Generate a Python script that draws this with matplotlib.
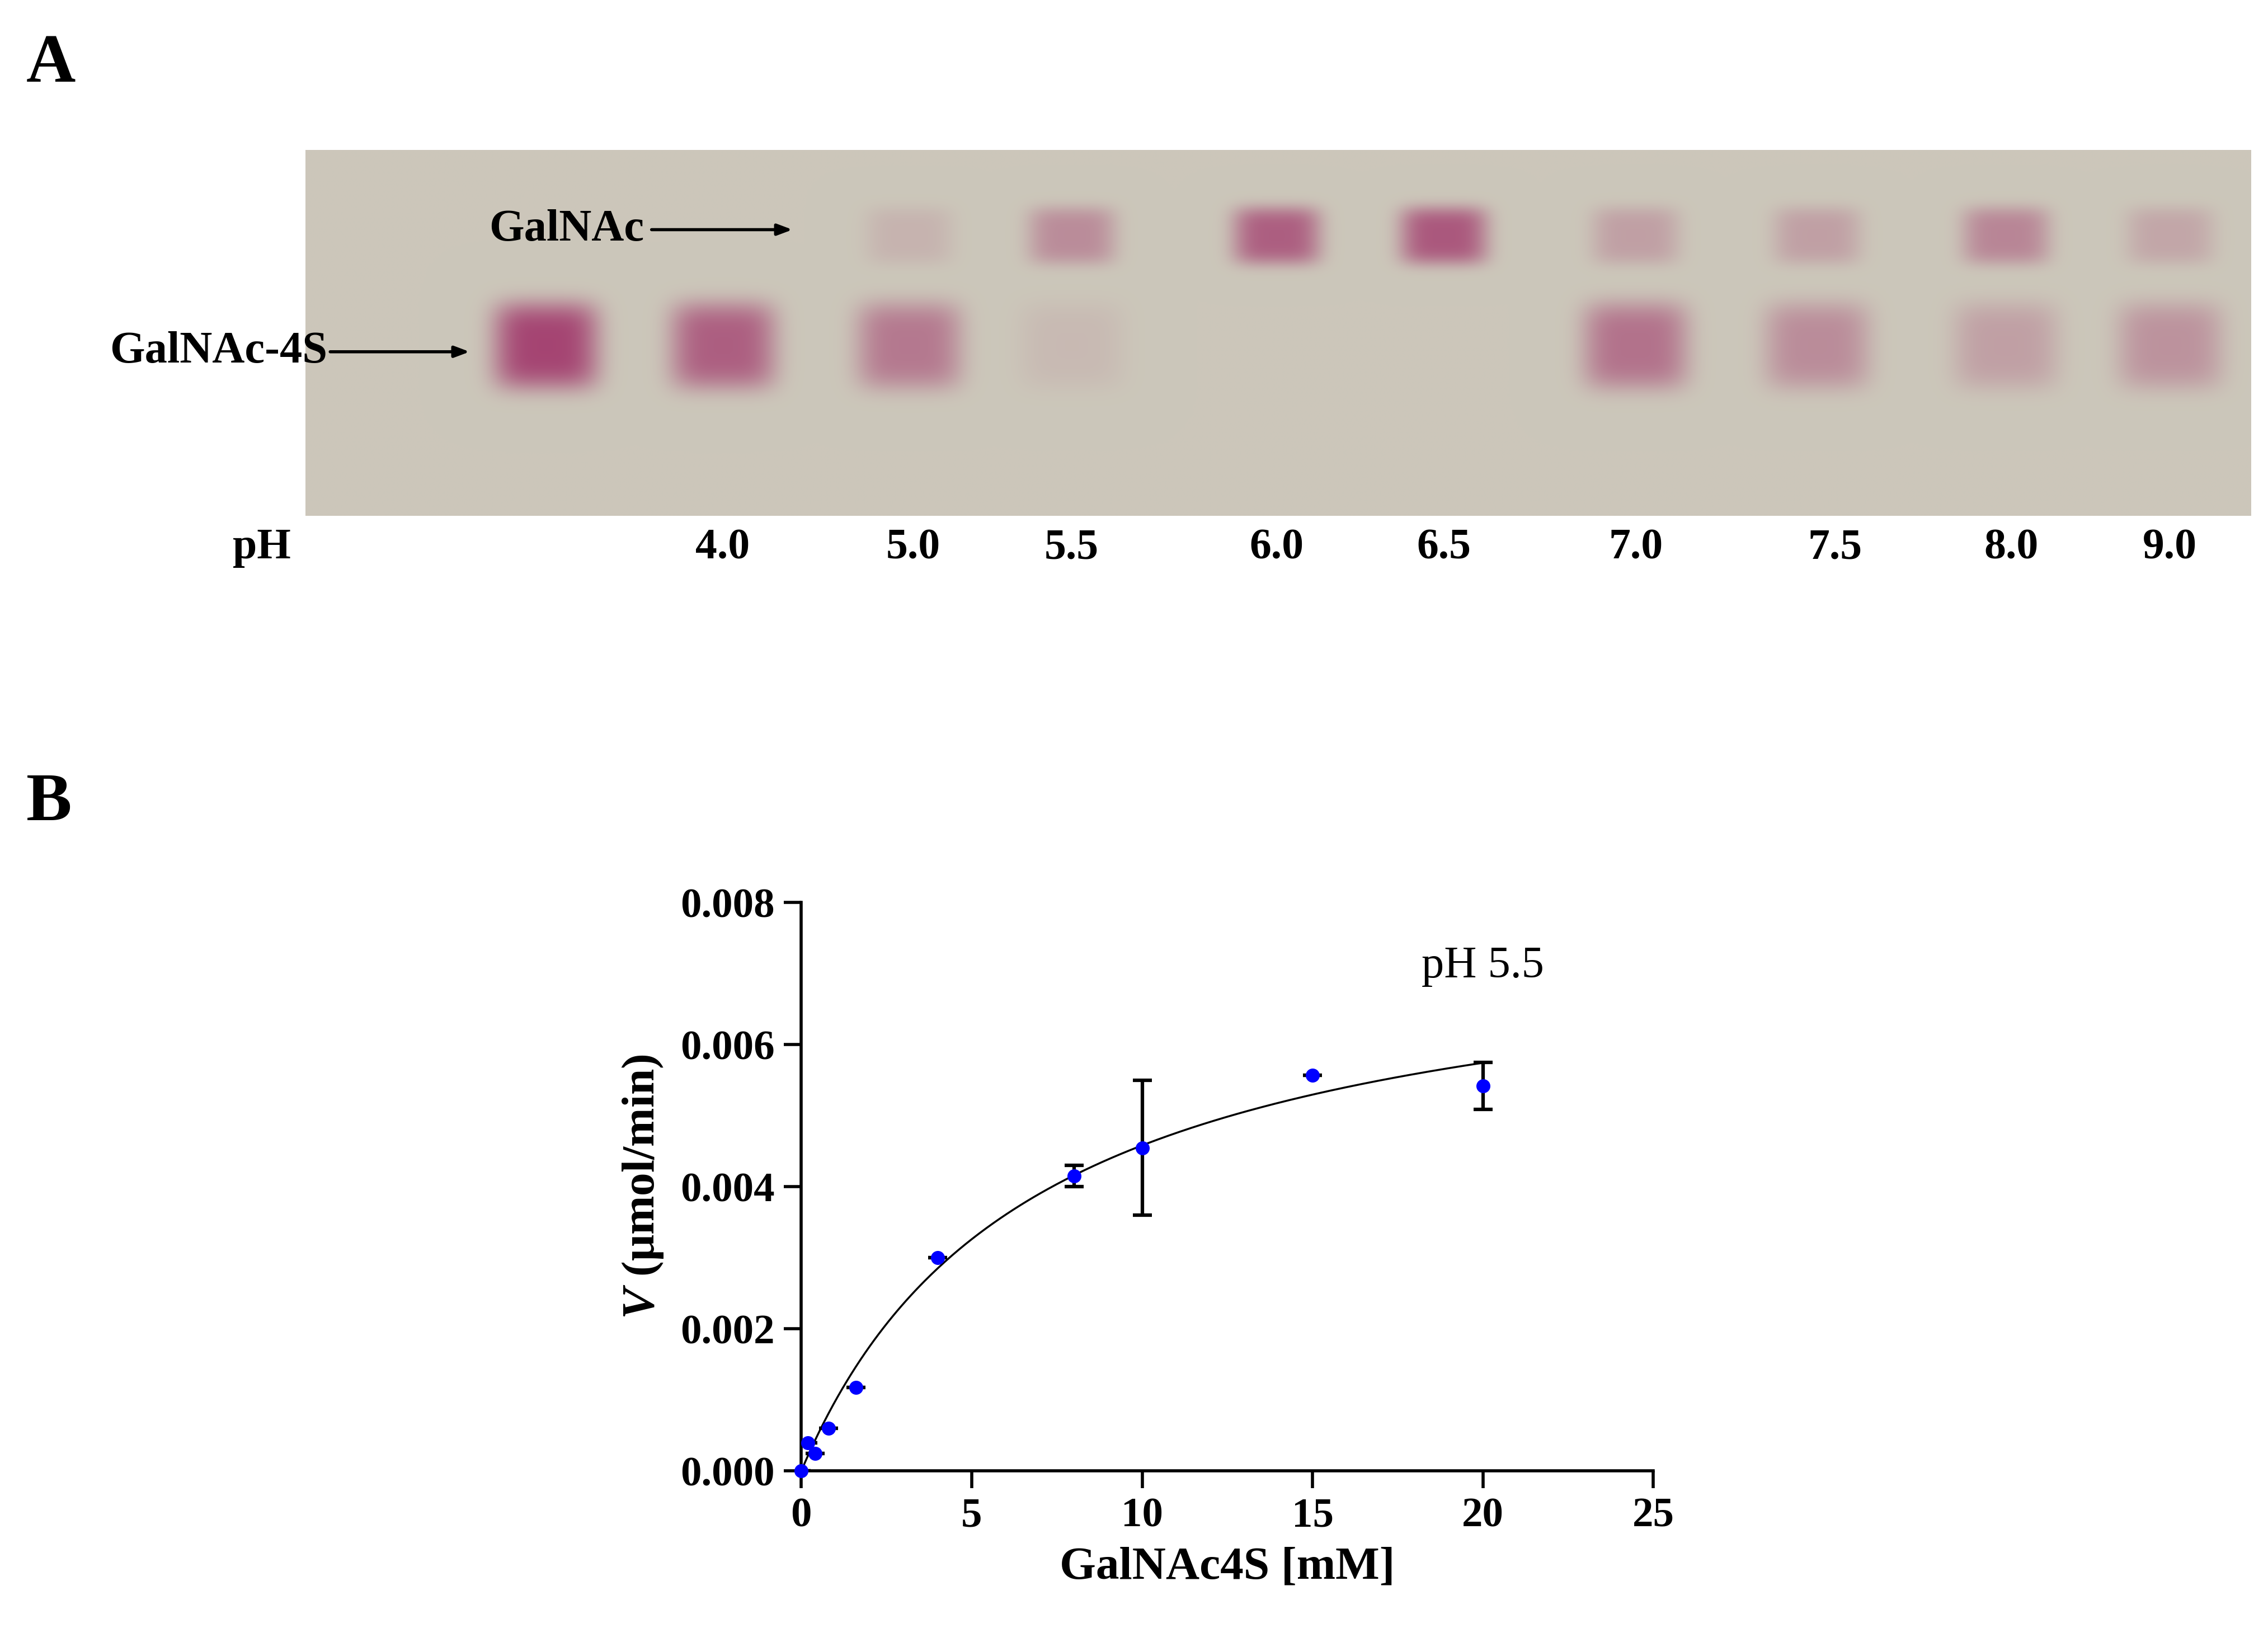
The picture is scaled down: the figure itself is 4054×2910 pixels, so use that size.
import numpy as np
import matplotlib
matplotlib.use("Agg")
import matplotlib.pyplot as plt
from matplotlib import rcParams

rcParams["font.family"] = ["Liberation Serif", "DejaVu Serif"]
rcParams["font.weight"] = "bold"
rcParams["mathtext.fontset"] = "custom"
rcParams["mathtext.it"] = "Liberation Serif:italic:bold"
rcParams["mathtext.rm"] = "Liberation Serif:bold"

# ── Panel A: TLC lanes (positions in reference layout units) ──────────────────
lane_x = [375, 497, 625, 737, 878, 993, 1125, 1250, 1380, 1493]
lane_labels = ["", "4.0", "5.0", "5.5", "6.0", "6.5", "7.0", "7.5", "8.0", "9.0"]
label_x = [None, 497, 628, 737, 878, 993, 1125, 1262, 1383, 1492]
galnac_int = [0.0, 0.0, 0.15, 0.45, 0.8, 0.85, 0.3, 0.3, 0.5, 0.25]
galnac4s_int = [1.0, 0.8, 0.6, 0.1, 0.0, 0.0, 0.65, 0.45, 0.3, 0.4]
galnac_y = 162
galnac4s_y = 238

# ── Panel B: kinetics data ────────────────────────────────────────────────────
conc = [0, 0.2, 0.4, 0.8, 1.6, 4, 8, 10, 15, 20]
rate = [0.0, 0.0004, 0.00025, 0.0006, 0.00118, 0.0030, 0.00415, 0.00455, 0.00557, 0.00542]
err = [0, 0, 0, 0, 0, 0, 0.00015, 0.00095, 0, 0.00033]
vmax, km = 0.0077, 6.8

W, H = 1560, 1120
fig = plt.figure(figsize=(40.55, 29.10), dpi=100)

def fx(x):
    return x / W

def fy(y):
    return 1 - y / H

# plate image
x0, x1, y0, y1 = 210, 1548, 103, 355
ax_a = fig.add_axes([fx(x0), fy(y1), fx(x1) - fx(x0), fy(y0) - fy(y1)])
xs = np.linspace(x0, x1, 900)
ys = np.linspace(y0, y1, 200)
X, Y = np.meshgrid(xs, ys)
bg = np.array([0.80, 0.78, 0.73])
spot = np.array([0.62, 0.18, 0.40])
alpha = np.zeros_like(X)
for lx, gi, si in zip(lane_x, galnac_int, galnac4s_int):
    alpha += gi * np.exp(-((X - lx) / 30) ** 4 - ((Y - galnac_y) / 20) ** 4)
    alpha += si * np.exp(-((X - lx) / 36) ** 4 - ((Y - galnac4s_y) / 30) ** 4)
alpha = np.clip(alpha, 0, 1) * 0.85
img = bg[None, None, :] * (1 - alpha[..., None]) + spot[None, None, :] * alpha[..., None]
ax_a.imshow(img, extent=[x0, x1, y1, y0], aspect="auto", interpolation="bilinear")
ax_a.set_xlim(x0, x1)
ax_a.set_ylim(y1, y0)
ax_a.axis("off")

fig.text(fx(18), fy(45), "A", fontsize=88, fontweight="bold", va="center")
fig.text(fx(18), fy(553), "B", fontsize=88, fontweight="bold", va="center")
fig.text(fx(180), fy(377), "pH", fontsize=56, fontweight="bold", ha="center", va="center")
for lx, lab in zip(label_x, lane_labels):
    if lab:
        fig.text(fx(lx), fy(377), lab, fontsize=56, fontweight="bold", ha="center", va="center")

fig.text(fx(443), fy(158), "GalNAc", fontsize=58, fontweight="bold", ha="right", va="center")
fig.text(fx(225), fy(242), "GalNAc-4S", fontsize=58, fontweight="bold", ha="right", va="center")
arrow_kw = dict(arrowstyle="-|>,head_length=1.6,head_width=0.6", color="black", lw=4)
fig.patches  # keep figure-level annotations
ax_a.annotate("", xy=(fx(546), fy(158)), xytext=(fx(447), fy(158)),
              xycoords="figure fraction", textcoords="figure fraction",
              arrowprops=arrow_kw, annotation_clip=False)
ax_a.annotate("", xy=(fx(324), fy(242)), xytext=(fx(226), fy(242)),
              xycoords="figure fraction", textcoords="figure fraction",
              arrowprops=arrow_kw, annotation_clip=False)

# kinetics plot
ax_b = fig.add_axes([fx(551), fy(1012), fx(1137) - fx(551), fy(621) - fy(1012)])
xf = np.linspace(0, 20, 300)
ax_b.plot(xf, vmax * xf / (km + xf), color="black", lw=2.5, zorder=2)
ax_b.errorbar(conc, rate, yerr=err, fmt="none", ecolor="black", elinewidth=4.5,
              capsize=12, capthick=4.5, zorder=3)
ax_b.plot(conc, rate, "o", color="#0000ff", ms=17, zorder=4, clip_on=False)
ax_b.set_xlim(0, 25)
ax_b.set_ylim(0, 0.008)
ax_b.set_xticks([0, 5, 10, 15, 20, 25])
ax_b.set_yticks([0, 0.002, 0.004, 0.006, 0.008])
ax_b.yaxis.set_major_formatter(matplotlib.ticker.FormatStrFormatter("%.3f"))
for s in ["top", "right"]:
    ax_b.spines[s].set_visible(False)
for s in ["left", "bottom"]:
    ax_b.spines[s].set_linewidth(4)
ax_b.tick_params(width=4, length=22, labelsize=54, pad=12)
for t in ax_b.get_xticklabels() + ax_b.get_yticklabels():
    t.set_fontweight("bold")
ax_b.set_xlabel("GalNAc4S [mM]", fontsize=60, fontweight="bold", labelpad=14)
ax_b.set_ylabel("$V$ (μmol/min)", fontsize=60, fontweight="bold", labelpad=20)
ax_b.text(20, 0.0071, "pH 5.5", fontsize=58, fontweight="normal", ha="center", va="center")

fig.savefig("out.png", dpi=100)
